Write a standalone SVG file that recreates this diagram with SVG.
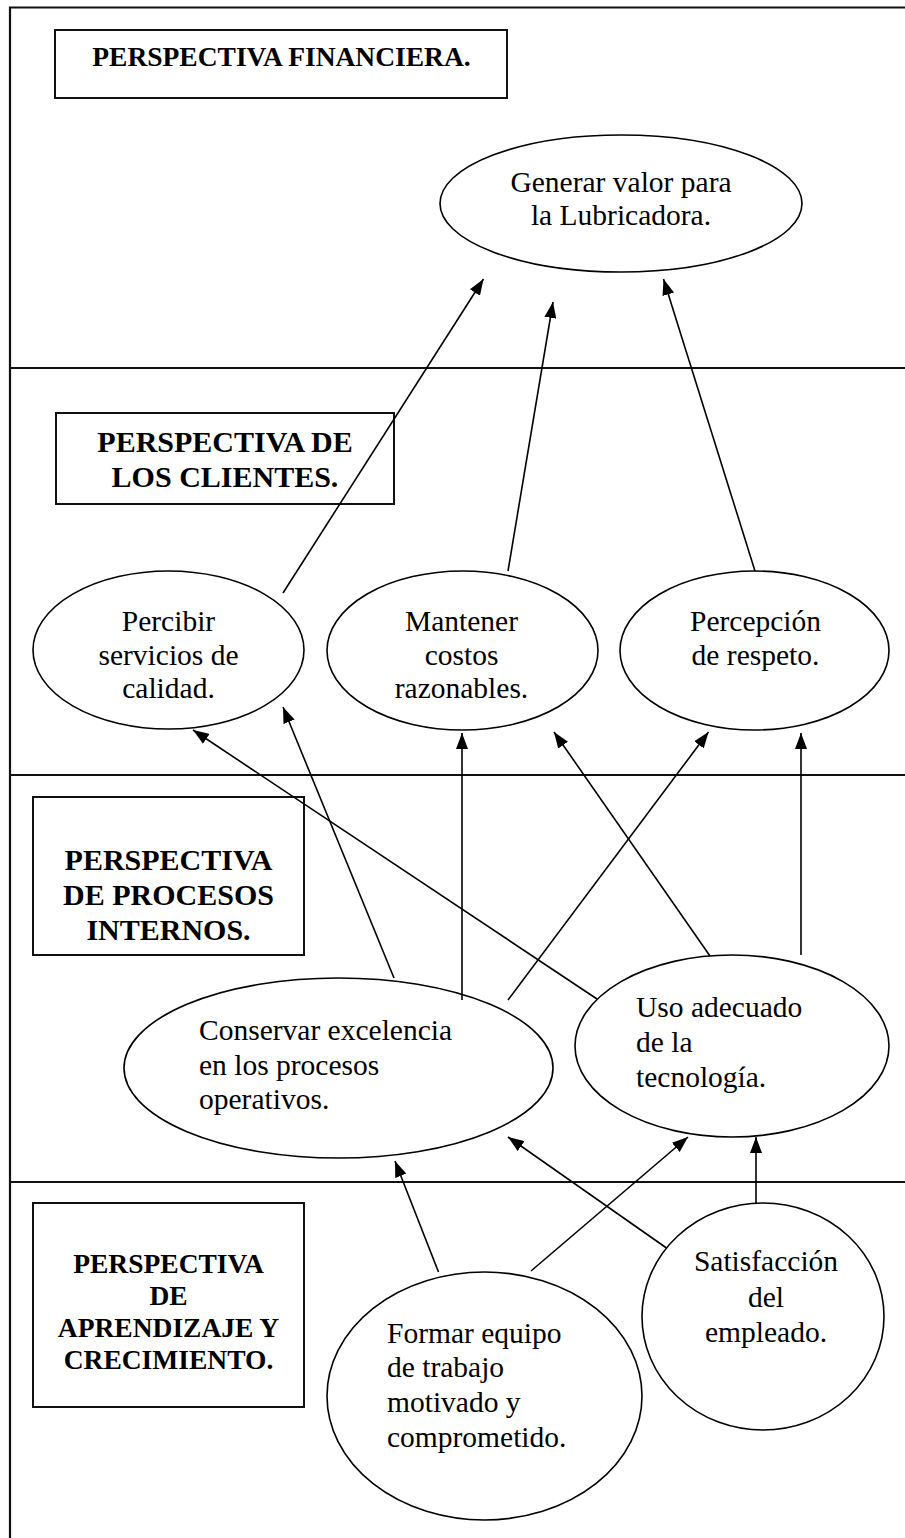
<svg xmlns="http://www.w3.org/2000/svg" width="905" height="1538" viewBox="0 0 905 1538">
<defs>
<style>
.frame{fill:none;stroke:#111;stroke-width:2.2}
.box{fill:none;stroke:#111;stroke-width:2}
.ell{fill:#fff;stroke:#000;stroke-width:1.6}
.conn{fill:none;stroke:#000;stroke-width:1.6}
.t{font-family:"Liberation Serif","Times New Roman",serif;font-size:29.5px;fill:#000}
.c{text-anchor:middle}
.b{font-weight:bold}
</style>
<marker id="ah" viewBox="0 0 16 12" refX="16" refY="6" markerWidth="16" markerHeight="12" markerUnits="userSpaceOnUse" orient="auto">
<path d="M0,0 L16,6 L0,12 z" fill="#000"/>
</marker>
</defs>
<rect width="905" height="1538" fill="#fff"/>
<g id="frame">
<path class="frame" d="M10,1538 V7.5 H905"/>
<line class="frame" x1="10" y1="368" x2="905" y2="368"/>
<line class="frame" x1="10" y1="775" x2="905" y2="775"/>
<line class="frame" x1="10" y1="1182" x2="905" y2="1182"/>
</g>
<g id="box-financiera">
<rect class="box" x="55" y="30" width="452" height="68"/>
<text class="t b c" x="281.5" y="66" style="font-size:27.5px">PERSPECTIVA FINANCIERA.</text>
</g>
<g id="generar-valor">
<ellipse class="ell" cx="621" cy="203.5" rx="181" ry="68.5"/>
<text class="t c" x="621" y="192">Generar valor para</text>
<text class="t c" x="621" y="225">la Lubricadora.</text>
</g>
<g id="box-clientes">
<rect class="box" x="56" y="413" width="338" height="91"/>
<text class="t b c" x="225" y="452" style="font-size:30px">PERSPECTIVA DE</text>
<text class="t b c" x="225" y="487" style="font-size:30px">LOS CLIENTES.</text>
</g>
<g id="percibir-servicios">
<ellipse class="ell" cx="168.5" cy="650" rx="135.5" ry="79"/>
<text class="t c" x="168.5" y="631">Percibir</text>
<text class="t c" x="168.5" y="664.5">servicios de</text>
<text class="t c" x="168.5" y="698">calidad.</text>
</g>
<g id="mantener-costos">
<ellipse class="ell" cx="462.5" cy="650.5" rx="135.5" ry="79.5"/>
<text class="t c" x="461.5" y="631">Mantener</text>
<text class="t c" x="461.5" y="664.5">costos</text>
<text class="t c" x="461.5" y="698">razonables.</text>
</g>
<g id="percepcion-respeto">
<ellipse class="ell" cx="754.5" cy="650.5" rx="134.5" ry="79.5"/>
<text class="t c" x="755.5" y="631">Percepción</text>
<text class="t c" x="755.5" y="664.5">de respeto.</text>
</g>
<g id="box-procesos">
<rect class="box" x="33" y="797" width="271" height="158"/>
<text class="t b c" x="168.5" y="870" style="font-size:30px">PERSPECTIVA</text>
<text class="t b c" x="168.5" y="905" style="font-size:30px">DE PROCESOS</text>
<text class="t b c" x="168.5" y="940" style="font-size:30px">INTERNOS.</text>
</g>
<g id="conservar-excelencia">
<ellipse class="ell" cx="338.5" cy="1068" rx="214.5" ry="90"/>
<text class="t" x="199" y="1040">Conservar excelencia</text>
<text class="t" x="199" y="1075">en los procesos</text>
<text class="t" x="199" y="1109">operativos.</text>
</g>
<g id="uso-tecnologia">
<ellipse class="ell" cx="732" cy="1046" rx="157" ry="91"/>
<text class="t" x="636" y="1017">Uso adecuado</text>
<text class="t" x="636" y="1052">de la</text>
<text class="t" x="636" y="1087">tecnología.</text>
</g>
<g id="box-aprendizaje">
<rect class="box" x="33" y="1203" width="271" height="204"/>
<text class="t b c" x="168.5" y="1273" style="font-size:27.5px">PERSPECTIVA</text>
<text class="t b c" x="168.5" y="1305" style="font-size:27.5px">DE</text>
<text class="t b c" x="168.5" y="1337" style="font-size:27.5px">APRENDIZAJE Y</text>
<text class="t b c" x="168.5" y="1369" style="font-size:27.5px">CRECIMIENTO.</text>
</g>
<g id="formar-equipo">
<ellipse class="ell" cx="484.5" cy="1396" rx="157.5" ry="124"/>
<text class="t" x="387" y="1343">Formar equipo</text>
<text class="t" x="387" y="1377">de trabajo</text>
<text class="t" x="387" y="1412">motivado y</text>
<text class="t" x="387" y="1447">comprometido.</text>
</g>
<g id="satisfaccion-empleado">
<ellipse class="ell" cx="763" cy="1316.5" rx="121" ry="113.5"/>
<text class="t c" x="766" y="1271">Satisfacción</text>
<text class="t c" x="766" y="1307">del</text>
<text class="t c" x="766" y="1342">empleado.</text>
</g>
<g id="connectors">
<line class="conn" x1="283" y1="593" x2="483.5" y2="279" marker-end="url(#ah)"/>
<line class="conn" x1="508" y1="571" x2="553" y2="302" marker-end="url(#ah)"/>
<line class="conn" x1="755" y1="571" x2="663.5" y2="279" marker-end="url(#ah)"/>
<line class="conn" x1="597" y1="999" x2="193" y2="730" marker-end="url(#ah)"/>
<line class="conn" x1="394" y1="978" x2="283" y2="707" marker-end="url(#ah)"/>
<line class="conn" x1="462" y1="1000" x2="462" y2="733" marker-end="url(#ah)"/>
<line class="conn" x1="710" y1="956" x2="554" y2="732" marker-end="url(#ah)"/>
<line class="conn" x1="508" y1="1000" x2="708.5" y2="732" marker-end="url(#ah)"/>
<line class="conn" x1="801" y1="955" x2="801" y2="733" marker-end="url(#ah)"/>
<line class="conn" x1="438.5" y1="1272" x2="395" y2="1161" marker-end="url(#ah)"/>
<line class="conn" x1="666.5" y1="1248" x2="508" y2="1137" marker-end="url(#ah)"/>
<line class="conn" x1="531" y1="1271" x2="688" y2="1137" marker-end="url(#ah)"/>
<line class="conn" x1="756" y1="1203" x2="756" y2="1137" marker-end="url(#ah)"/>
</g>
</svg>
